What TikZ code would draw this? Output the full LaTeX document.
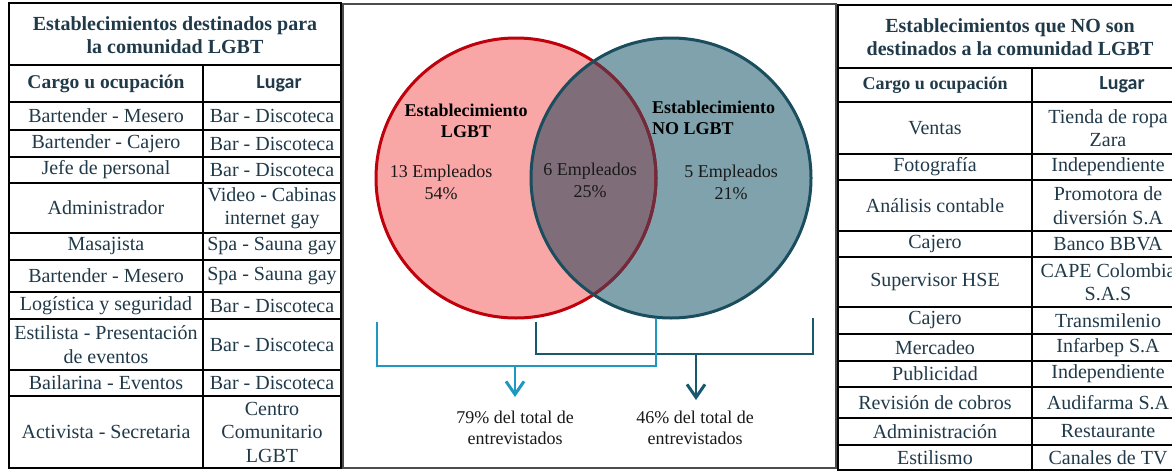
\documentclass[tikz,border=0pt]{standalone}
\usepackage{fontspec}
\setmainfont{Liberation Serif}
\newfontfamily\calib{Carlito}
\usetikzlibrary{arrows.meta}
\definecolor{tx}{RGB}{32,58,74}
\definecolor{pinkf}{RGB}{248,166,166}
\definecolor{redS}{RGB}{192,0,10}
\definecolor{tealf}{RGB}{128,162,172}
\definecolor{tealS}{RGB}{26,78,94}
\definecolor{mauve}{RGB}{127,110,121}
\definecolor{redin}{RGB}{110,44,60}
\definecolor{lblue}{RGB}{30,152,192}
\definecolor{dteal}{RGB}{22,90,108}
\begin{document}
\begin{tikzpicture}[x=1pt,y=-1pt,
  cell/.style={text=tx, font=\fontsize{20}{23.5}\selectfont, align=center, inner sep=0pt},
  ttl/.style={text=tx, font=\bfseries\fontsize{20}{22.5}\selectfont, align=center, inner sep=0pt},
  hdr/.style={text=tx, font=\bfseries\fontsize{19.5}{22}\selectfont, inner sep=0pt},
  hdrr/.style={text=tx, font=\bfseries\fontsize{18}{22}\selectfont, inner sep=0pt},
  lug/.style={text=tx, font=\calib\bfseries\fontsize{20}{22}\selectfont, inner sep=0pt},
  grid/.style={line width=1.7pt, black},
  vbold/.style={text=black, font=\bfseries\fontsize{18}{21.5}\selectfont, inner sep=0pt},
  vreg/.style={text=black!90, font=\fontsize{18}{21.5}\selectfont, align=center, inner sep=0pt},
  brk/.style={line width=2.7pt},
  tip/.style={-{Straight Barb[length=13pt,width=18pt,line width=3pt]}}
]
\useasboundingbox (0,0) rectangle (1172,471);
\fill[white] (0,0) rectangle (1172,471);

% ---------- left table ----------
\draw[grid] (9,3) rectangle (341,468);
\foreach \yy in {65,102,130,157,183,233,260,292,319,370,396}
  \draw[grid] (9,\yy) -- (341,\yy);
\draw[grid] (203,65) -- (203,468);

\node[ttl] (lt) at (175,35) {Establecimientos destinados para\\la comunidad LGBT};
\node[hdr] (lh1) at (106,84) {Cargo u ocupación};
\node[lug] (lh2) at (279,84) {Lugar};
\node[cell] (la1) at (106,116) {Bartender - Mesero};
\node[cell] (lb1) at (272,116) {Bar - Discoteca};
\node[cell] (la2) at (106,143.5) {Bartender - Cajero};
\node[cell] (lb2) at (272,143.5) {Bar - Discoteca};
\node[cell] (la3) at (106,170) {Jefe de personal};
\node[cell] (lb3) at (272,170) {Bar - Discoteca};
\node[cell] (la4) at (106,208) {Administrador};
\node[cell] (lb4) at (272,208) {Video - Cabinas\\internet gay};
\node[cell] (la5) at (106,246.5) {Masajista};
\node[cell] (lb5) at (272,246.5) {Spa - Sauna gay};
\node[cell] (la6) at (106,276) {Bartender - Mesero};
\node[cell] (lb6) at (272,276) {Spa - Sauna gay};
\node[cell] (la7) at (106,305.5) {Logística y seguridad};
\node[cell] (lb7) at (272,305.5) {Bar - Discoteca};
\node[cell] (la8) at (106,344.5) {Estilista - Presentación\\de eventos};
\node[cell] (lb8) at (272,344.5) {Bar - Discoteca};
\node[cell] (la9) at (106,383) {Bailarina - Eventos};
\node[cell] (lb9) at (272,383) {Bar - Discoteca};
\node[cell] (la10) at (106,432) {Activista - Secretaria};
\node[cell] (lb10) at (272,432) {Centro\\Comunitario\\LGBT};

% ---------- right table ----------
\begin{scope}
\clip (830,0) rectangle (1172,471);
\draw[grid] (838,5) rectangle (1190,470);
\foreach \yy in {68,102,154,180,231,257,307,334,361,387,418,445}
  \draw[grid] (838,\yy) -- (1190,\yy);
\draw[grid] (1032,68) -- (1032,470);
\node[ttl] (rt) at (1010,37) {Establecimientos que NO son\\destinados a la comunidad LGBT};
\node[hdrr] (rh1) at (935,85) {Cargo u ocupación};
\node[lug] (rh2) at (1122,85) {Lugar};
\node[cell] (ra1) at (935,128) {Ventas};
\node[cell] (rb1) at (1108,128) {Tienda de ropa\\Zara};
\node[cell] (ra2) at (935,167) {Fotografía};
\node[cell] (rb2) at (1108,167) {Independiente};
\node[cell] (ra3) at (935,205.5) {Análisis contable};
\node[cell] (rb3) at (1108,205.5) {Promotora de\\diversión S.A};
\node[cell] (ra4) at (935,244) {Cajero};
\node[cell] (rb4) at (1108,244) {Banco BBVA};
\node[cell] (ra5) at (935,282) {Supervisor HSE};
\node[cell] (rb5) at (1108,282) {CAPE Colombia\\S.A.S};
\node[cell] (ra6) at (935,320.5) {Cajero};
\node[cell] (rb6) at (1108,320.5) {Transmilenio};
\node[cell] (ra7) at (935,347.5) {Mercadeo};
\node[cell] (rb7) at (1108,347.5) {Infarbep S.A};
\node[cell] (ra8) at (935,374) {Publicidad};
\node[cell] (rb8) at (1108,374) {Independiente};
\node[cell] (ra9) at (935,402.5) {Revisión de cobros};
\node[cell] (rb9) at (1108,402.5) {Audifarma S.A};
\node[cell] (ra10) at (935,431.5) {Administración};
\node[cell] (rb10) at (1108,431.5) {Restaurante};
\node[cell] (ra11) at (935,457.5) {Estilismo};
\node[cell] (rb11) at (1108,457.5) {Canales de TV};
\end{scope}

% ---------- middle box ----------
\draw[line width=1.3pt, black!70] (343,4) rectangle (836,468);

\coordinate (cR) at (516,178);
\coordinate (cT) at (671,178);
\fill[pinkf] (cR) circle[radius=140pt];
\fill[tealf] (cT) circle[radius=140pt];
\begin{scope}
  \clip (cR) circle[radius=140pt];
  \fill[mauve] (cT) circle[radius=140pt];
\end{scope}
\draw[redS, line width=3pt] (cR) circle[radius=140pt];
\begin{scope}
  \clip (cT) circle[radius=140pt];
  \draw[redin, line width=3pt] (cR) circle[radius=140pt];
\end{scope}
\draw[tealS, line width=3pt] (cT) circle[radius=140pt];

\node[vbold, align=center] (tL) at (466,121) {Establecimiento\\LGBT};
\node[vbold, align=left, anchor=west] (tN) at (652,118) {Establecimiento\\NO LGBT};
\node[vreg] (n13) at (441,182.5) {13 Empleados\\54\%};
\node[vreg] (n6) at (590,180.5) {6 Empleados\\25\%};
\node[vreg] (n5) at (731,182.5) {5 Empleados\\21\%};

% brackets
\coordinate (d1) at (536,322);
\coordinate (d2) at (536,354);
\coordinate (d3) at (813,354);
\coordinate (d4) at (813,318);
\coordinate (dm) at (696,354);
\coordinate (dt) at (696,400);
\coordinate (l1) at (377,322);
\coordinate (l2) at (377,366);
\coordinate (l3) at (656,366);
\coordinate (l4) at (656,318);
\coordinate (lm) at (515,366);
\coordinate (lt2) at (515,397);

\node[vreg] (p79) at (515,428) {79\% del total de\\entrevistados};
\node[vreg] (p46) at (695,428) {46\% del total de\\entrevistados};

\draw[brk, dteal] (d1) -- (d2) -- (d3) -- (d4);
\draw[brk, dteal, tip] (dm) -- (dt);
\draw[brk, lblue] (l1) -- (l2) -- (l3) -- (l4);
\draw[brk, lblue, tip] (lm) -- (lt2);
\end{tikzpicture}
\end{document}
